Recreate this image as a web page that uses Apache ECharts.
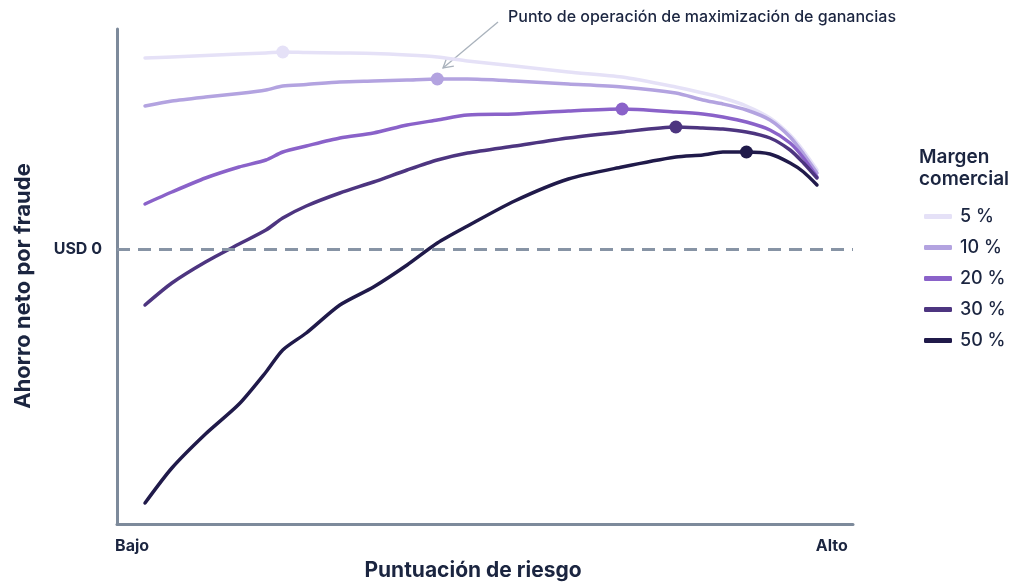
<!DOCTYPE html>
<html>
<head>
<meta charset="utf-8">
<script src="https://cdn.jsdelivr.net/npm/echarts@6/dist/echarts.min.js"></script>
<style>
  html, body { margin: 0; padding: 0; background: #ffffff; }
  #chart { width: 1017px; height: 583px; }
</style>
</head>
<body>
<div id="chart"></div>
<script>
// ---- data ----
const scores = [0, 4, 9, 14, 18, 20.5, 24, 29, 34, 39, 43.5, 48, 55, 63, 71, 79, 83, 86, 89.5, 93, 96, 98, 100];
const seriesNames = ['5 %', '10 %', '20 %', '30 %', '50 %'];
const margin5  = [19.1, 19.2, 19.35, 19.5, 19.6, 19.7, 19.65, 19.6, 19.55, 19.4, 19.2, 18.8, 18.3, 17.7, 17.2, 16.2, 15.6, 15.1, 14.3, 13.1, 11.4, 9.8, 7.9];
const margin10 = [14.3, 14.8, 15.2, 15.55, 15.9, 16.3, 16.45, 16.7, 16.8, 16.9, 17.0, 17.0, 16.8, 16.5, 16.2, 15.6, 14.9, 14.5, 13.9, 12.9, 11.2, 9.5, 7.6];
const margin20 = [4.5, 5.7, 7.1, 8.2, 8.9, 9.7, 10.3, 11.1, 11.6, 12.4, 12.9, 13.4, 13.5, 13.8, 14.0, 13.7, 13.5, 13.2, 12.7, 11.9, 10.6, 9.1, 7.2];
const margin30 = [-5.6, -3.4, -1.3, 0.5, 1.9, 3.1, 4.3, 5.6, 6.7, 7.9, 8.9, 9.6, 10.3, 11.1, 11.7, 12.2, 12.1, 12.0, 11.7, 11.1, 9.9, 8.6, 7.1];
const margin50 = [-25.4, -21.9, -18.5, -15.5, -12.3, -10.1, -8.4, -5.6, -3.8, -1.6, 0.6, 2.3, 4.8, 7.0, 8.2, 9.2, 9.4, 9.7, 9.7, 9.5, 8.6, 7.7, 6.4];
const optimumIndex = [5, 10, 14, 15, 18];
const xTickValues = [-1.93, 102.2];
const xTickLabels = ['Bajo', 'Alto'];
const yTickValues = [0];
const yTickLabels = ['USD 0'];
const annotationText = 'Punto de operación de maximización de ganancias';

// ---- styles ----
const colors = ['#e5e1f7', '#b3a3e0', '#8a62c9', '#4d3580', '#201a4a'];
const textColor = '#1b2540';
const axisColor = '#7d8a9b';
const FONT = 'Inter, "Noto Sans", sans-serif';

const allValues = [margin5, margin10, margin20, margin30, margin50];

const chart = echarts.init(document.getElementById('chart'), null, { renderer: 'canvas' });

const series = allValues.map((vals, si) => ({
  name: seriesNames[si],
  type: 'line',
  smooth: 0.25,
  symbol: 'none',
  showSymbol: true,
  z: 3,
  lineStyle: { color: colors[si], width: 3.5, cap: 'round', join: 'round' },
  itemStyle: { color: colors[si] },
  emphasis: { disabled: true },
  data: vals.map((v, i) => i === optimumIndex[si]
    ? { value: [scores[i], v], symbol: 'circle', symbolSize: 13 }
    : [scores[i], v]),
  markLine: si === 0 ? {
    silent: true,
    symbol: 'none',
    label: { show: false },
    lineStyle: { type: [13, 8], color: '#8794a5', width: 3 },
    data: [{ yAxis: 0 }]
  } : undefined
}));

// annotation arrow geometry (pixel space annotation)
const arrowStart = [498, 22], arrowEnd = [443, 68];
const dx = arrowStart[0] - arrowEnd[0], dy = arrowStart[1] - arrowEnd[1];
const len = Math.hypot(dx, dy), ux = dx / len, uy = dy / len;
const wing = (ang) => {
  const c = Math.cos(ang), s = Math.sin(ang);
  return [arrowEnd[0] + 11 * (c * ux - s * uy), arrowEnd[1] + 11 * (s * ux + c * uy)];
};

const option = {
  animation: false,
  backgroundColor: '#ffffff',
  grid: { left: 117, right: 164, top: 29, bottom: 59, containLabel: false },
  xAxis: {
    type: 'value',
    min: -4.17,
    max: 105.36,
    axisLine: { show: true, onZero: false, lineStyle: { color: axisColor, width: 3, cap: 'round' } },
    axisTick: { show: false },
    splitLine: { show: false },
    axisLabel: {
      show: true,
      customValues: xTickValues,
      formatter: (v) => xTickLabels[xTickValues.indexOf(v)] ?? '',
      margin: 14,
      color: textColor,
      fontFamily: FONT,
      fontSize: 16,
      fontWeight: 700
    }
  },
  yAxis: {
    type: 'value',
    min: -27.5,
    max: 22,
    axisLine: { show: true, onZero: false, lineStyle: { color: axisColor, width: 3, cap: 'round' } },
    axisTick: { show: false },
    splitLine: { show: false },
    axisLabel: {
      show: true,
      customValues: yTickValues,
      formatter: (v) => yTickLabels[yTickValues.indexOf(v)] ?? '',
      margin: 15,
      color: textColor,
      fontFamily: FONT,
      fontSize: 16,
      fontWeight: 700
    }
  },
  legend: {
    orient: 'vertical',
    left: 919,
    top: 202,
    icon: 'roundRect',
    itemWidth: 28,
    itemHeight: 5,
    itemGap: 12,
    selectedMode: false,
    data: seriesNames,
    textStyle: { color: textColor, fontFamily: FONT, fontSize: 18, fontWeight: 500, lineHeight: 19, padding: [0, 0, 0, 3] }
  },
  graphic: [
    {
      type: 'text', left: 919, top: 146,
      style: { text: 'Margen\ncomercial', fill: textColor, font: '600 19px ' + FONT, lineHeight: 22 }
    },
    {
      type: 'text', x: 23, y: 286, rotation: Math.PI / 2,
      style: { text: 'Ahorro neto por fraude', fill: textColor, font: '700 22px ' + FONT, align: 'center', verticalAlign: 'middle' }
    },
    {
      type: 'text', x: 473, y: 571,
      style: { text: 'Puntuación de riesgo', fill: textColor, font: '700 21px ' + FONT, align: 'center', verticalAlign: 'middle' }
    },
    {
      type: 'text', x: 508, y: 17,
      style: { text: annotationText, fill: textColor, font: '500 16px ' + FONT, align: 'left', verticalAlign: 'middle' }
    },
    {
      type: 'polyline',
      shape: { points: [arrowStart, arrowEnd] },
      style: { stroke: '#a9b2bc', lineWidth: 1.3, fill: null }
    },
    {
      type: 'polyline',
      shape: { points: [wing(Math.PI / 6), arrowEnd, wing(-Math.PI / 6)] },
      style: { stroke: '#a9b2bc', lineWidth: 1.3, fill: null }
    }
  ],
  series: series
};

chart.setOption(option);
</script>
</body>
</html>
